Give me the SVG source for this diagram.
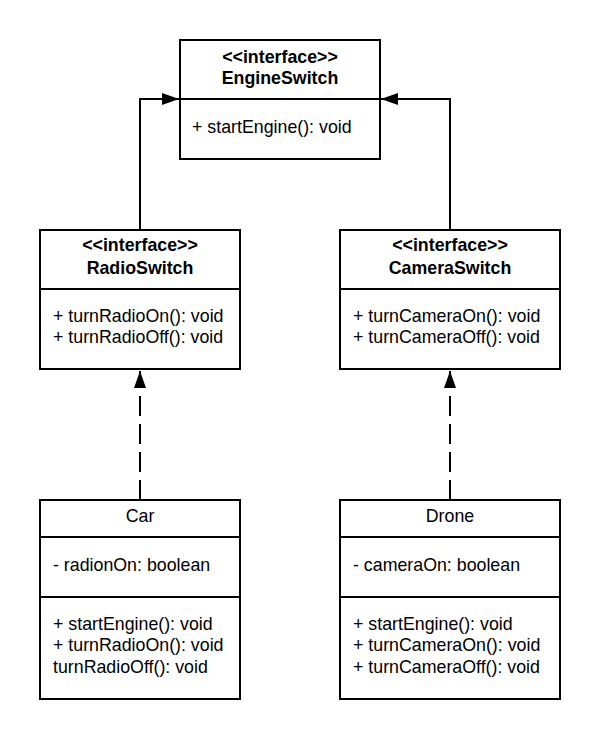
<svg xmlns="http://www.w3.org/2000/svg" width="600" height="739" viewBox="0 0 600 739">
  <style>
    .box { fill: #ffffff; stroke: #000000; stroke-width: 2; }
    .sep { stroke: #000000; stroke-width: 2; }
    text { font-family: "Liberation Sans", Arial, sans-serif; font-size: 17.8px; fill: #000000; }
    .title { text-anchor: middle; font-weight: bold; }
    .name { text-anchor: middle; }
    .edge { fill: none; stroke: #000000; stroke-width: 2; }
    .dash { stroke-dasharray: 20 8; }
  </style>
  <defs>
    <marker id="head" markerWidth="18" markerHeight="12" refX="17" refY="6" orient="auto" markerUnits="userSpaceOnUse">
      <path d="M0,0 L17,6 L0,12 Z" fill="#000000"/>
    </marker>
  </defs>
  <rect width="600" height="739" fill="#ffffff"/>

  <!-- connectors -->
  <g id="connectors">
    <path class="edge" d="M140,230 V99 H179" marker-end="url(#head)"/>
    <path class="edge" d="M450,230 V99 H381" marker-end="url(#head)"/>
    <path class="edge dash" d="M140,500 V371" marker-end="url(#head)"/>
    <path class="edge dash" d="M450,500 V371" marker-end="url(#head)"/>
  </g>

  <!-- interface EngineSwitch -->
  <g id="engine-switch">
    <rect class="box" x="180" y="40" width="200" height="119"/>
    <line class="sep" x1="180" y1="99" x2="380" y2="99"/>
    <text class="title" x="280" y="63">&lt;&lt;interface&gt;&gt;</text>
    <text class="title" x="280" y="84">EngineSwitch</text>
    <text x="192" y="133">+ startEngine(): void</text>
  </g>

  <!-- interface RadioSwitch -->
  <g id="radio-switch">
    <rect class="box" x="40" y="230" width="200" height="139"/>
    <line class="sep" x1="40" y1="289" x2="240" y2="289"/>
    <text class="title" x="140" y="251">&lt;&lt;interface&gt;&gt;</text>
    <text class="title" x="140" y="274">RadioSwitch</text>
    <text x="53" y="322">+ turnRadioOn(): void</text>
    <text x="53" y="343">+ turnRadioOff(): void</text>
  </g>

  <!-- interface CameraSwitch -->
  <g id="camera-switch">
    <rect class="box" x="340" y="230" width="220" height="139"/>
    <line class="sep" x1="340" y1="289" x2="560" y2="289"/>
    <text class="title" x="450" y="251">&lt;&lt;interface&gt;&gt;</text>
    <text class="title" x="450" y="274">CameraSwitch</text>
    <text x="353" y="322">+ turnCameraOn(): void</text>
    <text x="353" y="343">+ turnCameraOff(): void</text>
  </g>

  <!-- class Car -->
  <g id="car">
    <rect class="box" x="40" y="500" width="200" height="199"/>
    <line class="sep" x1="40" y1="537" x2="240" y2="537"/>
    <line class="sep" x1="40" y1="597" x2="240" y2="597"/>
    <text class="name" x="140" y="522">Car</text>
    <text x="53" y="571">- radionOn: boolean</text>
    <text x="53" y="630">+ startEngine(): void</text>
    <text x="53" y="651">+ turnRadioOn(): void</text>
    <text x="53" y="673">turnRadioOff(): void</text>
  </g>

  <!-- class Drone -->
  <g id="drone">
    <rect class="box" x="340" y="500" width="220" height="199"/>
    <line class="sep" x1="340" y1="537" x2="560" y2="537"/>
    <line class="sep" x1="340" y1="597" x2="560" y2="597"/>
    <text class="name" x="450" y="522">Drone</text>
    <text x="353" y="571">- cameraOn: boolean</text>
    <text x="353" y="630">+ startEngine(): void</text>
    <text x="353" y="651">+ turnCameraOn(): void</text>
    <text x="353" y="673">+ turnCameraOff(): void</text>
  </g>
</svg>
